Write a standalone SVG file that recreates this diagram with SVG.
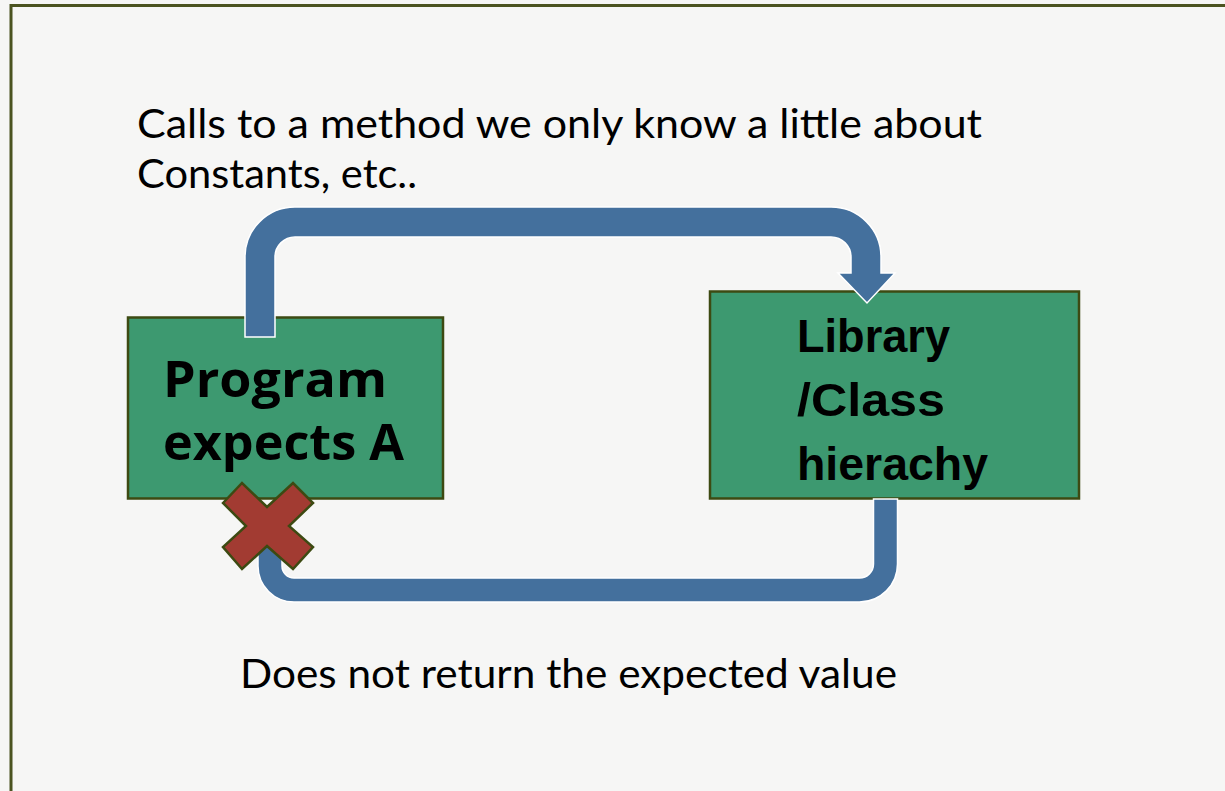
<svg xmlns="http://www.w3.org/2000/svg" width="1225" height="791" viewBox="0 0 1225 791">
  <style>
    .note { font-family: Lato, "Noto Sans", sans-serif; font-size: 41px; fill: #000; }
    .box { fill: #3d9970; stroke: #3d4a12; stroke-width: 2.5; }
    .prog { font-family: "Open Sans", "Noto Sans", sans-serif; font-weight: bold; font-size: 50px; fill: #000; }
    .lib { font-family: "Liberation Sans", Arial, sans-serif; font-weight: bold; font-size: 47px; fill: #000; }
    .flow { fill: #44709d; stroke: #ffffff; stroke-width: 1.5; }
    .cross { fill: #a23b32; stroke: #3d4a12; stroke-width: 2.5; stroke-linejoin: miter; }
  </style>

  <!-- page background and frame -->
  <rect x="0" y="0" width="1225" height="791" fill="#f6f6f5"/>
  <rect x="11" y="5.5" width="1240" height="800" fill="none" stroke="#4b5320" stroke-width="3"/>

  <!-- captions -->
  <text class="note" x="137" y="138" textLength="845" lengthAdjust="spacingAndGlyphs">Calls to a method  we only know a little about</text>
  <text class="note" x="137" y="188" textLength="280" lengthAdjust="spacingAndGlyphs">Constants, etc..</text>
  <text class="note" x="240" y="688" textLength="657" lengthAdjust="spacingAndGlyphs">Does not return  the expected value</text>

  <!-- nodes -->
  <g id="program">
    <rect class="box" x="128" y="317.5" width="315" height="181"/>
    <text class="prog" x="163" y="397" textLength="224" lengthAdjust="spacingAndGlyphs">Program</text>
    <text class="prog" x="163" y="460" textLength="241" lengthAdjust="spacingAndGlyphs">expects A</text>
  </g>

  <g id="library">
    <rect class="box" x="710" y="291.5" width="369" height="207"/>
    <text class="lib" x="797" y="352" textLength="153" lengthAdjust="spacingAndGlyphs">Library</text>
    <text class="lib" x="797" y="416" textLength="148" lengthAdjust="spacingAndGlyphs">/Class</text>
    <text class="lib" x="797" y="480" textLength="191" lengthAdjust="spacingAndGlyphs">hierachy</text>
  </g>

  <!-- connectors -->
  <g id="connectors">
    <!-- call: program up and over into the library -->
    <path class="flow" d="M 245 337 L 245 257 A 50 50 0 0 1 295 207 L 831 207 A 50 50 0 0 1 881 257 L 881 273 L 895 273 L 867 303 L 838 273 L 851 273 L 851 257 A 20 20 0 0 0 831 237 L 295 237 A 20 20 0 0 0 275 257 L 275 337 Z"/>
    <!-- return: library down and back under the program -->
    <path class="flow" d="M 873.5 499 L 873.5 564 A 14 14 0 0 1 859.5 578 L 294 578 A 12 12 0 0 1 282 566 L 282 535 L 258 535 L 258 566 A 36 36 0 0 0 294 602 L 859.5 602 A 38 38 0 0 0 897.5 564 L 897.5 499 Z"/>
  </g>

  <!-- failed return marker -->
  <g id="cross">
    <polygon class="cross" points="223,503 242,483 267,507 293,483 313,503 289,526 313,547 293,569 267,546 242,569 223,547 246,526"/>
  </g>
</svg>
